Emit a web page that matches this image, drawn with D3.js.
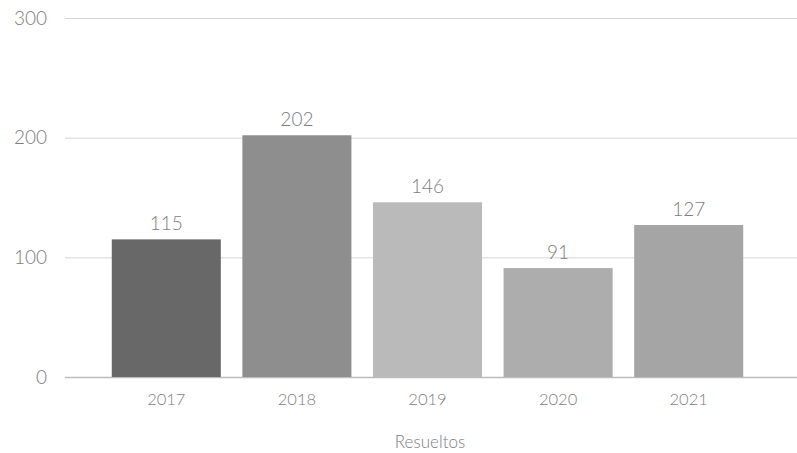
<!DOCTYPE html>
<html><head><meta charset="utf-8">
<script src="https://cdn.jsdelivr.net/npm/d3@7"></script>
<style>body{margin:0;background:#fff}svg{display:block;font-family:Lato,"Noto Sans",sans-serif}</style>
</head><body><svg id="c" width="797" height="453"></svg>
<script>
const categories = ["2017","2018","2019","2020","2021"];
const values = [115, 202, 146, 91, 127];
const colors = ["#686868","#8e8e8e","#bababa","#adadad","#a5a5a5"];
const yTicks = [0, 100, 200, 300];
const axisTitle = "Resueltos";

const svg = d3.select("#c");
const x = d3.scaleBand().domain(categories).range([101, 754]).paddingInner(0.165).paddingOuter(0.0825);
const y = d3.scaleLinear().domain([0, 300]).range([377, 18]);

svg.append("g").selectAll("line").data(yTicks).join("line")
  .attr("x1", 65).attr("x2", 797)
  .attr("y1", d => y(d) + 0.5).attr("y2", d => y(d) + 0.5)
  .attr("stroke", d => d === 0 ? "#bcbcbc" : "#d6d6d6").attr("stroke-width", d => d === 0 ? 1.5 : 1);

svg.append("g").selectAll("text").data(yTicks).join("text")
  .attr("x", 47).attr("y", d => y(d)).attr("dy", "0.35em")
  .attr("text-anchor", "end").attr("fill", "#7d7d7d").attr("font-size", 19).attr("font-weight", 300)
  .text(d => d);

svg.append("g").selectAll("rect").data(values).join("rect")
  .attr("x", (d, i) => x(categories[i])).attr("width", x.bandwidth())
  .attr("y", d => y(d)).attr("height", d => y(0) - y(d))
  .attr("fill", (d, i) => colors[i]);

svg.append("g").selectAll("text").data(values).join("text")
  .attr("x", (d, i) => x(categories[i]) + x.bandwidth() / 2).attr("y", d => y(d) - 9)
  .attr("text-anchor", "middle").attr("fill", "#7d7d7d").attr("font-size", 19).attr("font-weight", 300)
  .text(d => d);

svg.append("g").selectAll("text").data(categories).join("text")
  .attr("x", d => x(d) + x.bandwidth() / 2).attr("y", 399).attr("dy", "0.35em")
  .attr("text-anchor", "middle").attr("fill", "#7d7d7d").attr("font-size", 16.5).attr("font-weight", 300)
  .text(d => d);

svg.append("text").attr("x", 430).attr("y", 442).attr("dy", "0.35em")
  .attr("text-anchor", "middle").attr("fill", "#7d7d7d").attr("font-size", 17).attr("font-weight", 300)
  .text(axisTitle);
</script></body></html>
